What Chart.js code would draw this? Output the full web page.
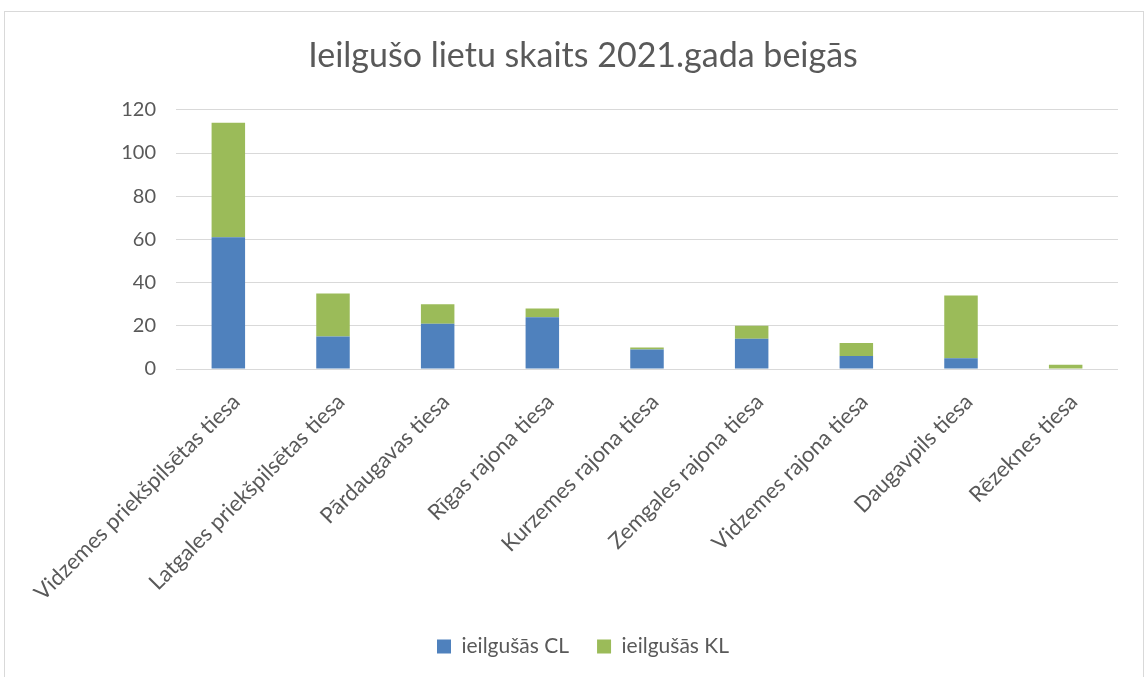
<!DOCTYPE html>
<html>
<head>
<meta charset="utf-8">
<script src="https://cdn.jsdelivr.net/npm/chart.js@4"></script>
<style>
  html, body { margin: 0; padding: 0; background: #fff; }
  #wrap { position: relative; width: 1148px; height: 677px; }
  #frame { position: absolute; left: 4px; top: 11px; width: 1138px; height: 670px; border: 1px solid #d9d9d9; pointer-events: none; }
</style>
</head>
<body>
<div id="wrap">
  <canvas id="chart" width="1148" height="677"></canvas>
  <div id="frame"></div>
</div>
<script>
const courts = [
  "Vidzemes priekšpilsētas tiesa",
  "Latgales priekšpilsētas tiesa",
  "Pārdaugavas tiesa",
  "Rīgas rajona tiesa",
  "Kurzemes rajona tiesa",
  "Zemgales rajona tiesa",
  "Vidzemes rajona tiesa",
  "Daugavpils tiesa",
  "Rēzeknes tiesa"
];
const civilCases = [61, 15, 21, 24, 9, 14, 6, 5, 0];     // ieilgušās CL
const criminalCases = [53, 20, 9, 4, 1, 6, 6, 29, 2];    // ieilgušās KL

const textColor = "#595959";
const fontFamily = "Lato, 'Open Sans', sans-serif";

const ctx = document.getElementById("chart").getContext("2d");
new Chart(ctx, {
  type: "bar",
  data: {
    labels: courts,
    datasets: [
      {
        label: "ieilgušās CL",
        data: civilCases,
        backgroundColor: "#4F81BD",
        barPercentage: 1,
        categoryPercentage: 0.32
      },
      {
        label: "ieilgušās KL",
        data: criminalCases,
        backgroundColor: "#9BBB59",
        barPercentage: 1,
        categoryPercentage: 0.32
      }
    ]
  },
  options: {
    responsive: false,
    animation: false,
    layout: { padding: { left: 48, right: 30, top: 20, bottom: 10 } },
    plugins: {
      title: {
        display: true,
        text: "Ieilgušo lietu skaits 2021.gada beigās",
        color: textColor,
        font: { family: fontFamily, size: 34, weight: "normal" },
        padding: { top: 16, bottom: 33 }
      },
      legend: {
        position: "bottom",
        labels: {
          color: textColor,
          font: { family: fontFamily, size: 21 },
          boxWidth: 14,
          boxHeight: 14,
          padding: 28
        }
      },
      tooltip: { enabled: false }
    },
    scales: {
      x: {
        stacked: true,
        afterFit: (scale) => { scale.height = 239; },
        grid: { display: false },
        border: { display: false },
        ticks: {
          color: textColor,
          font: { family: fontFamily, size: 22 },
          minRotation: 45,
          maxRotation: 45,
          autoSkip: false,
          labelOffset: 8,
          padding: 12
        }
      },
      y: {
        stacked: true,
        min: 0,
        max: 120,
        afterFit: (scale) => { scale.width = 128; },
        grid: { color: "#d9d9d9", lineWidth: 1, drawTicks: false },
        border: { display: false },
        ticks: {
          stepSize: 20,
          color: textColor,
          font: { family: fontFamily, size: 20 },
          padding: 20
        }
      }
    }
  }
});
</script>
</body>
</html>
